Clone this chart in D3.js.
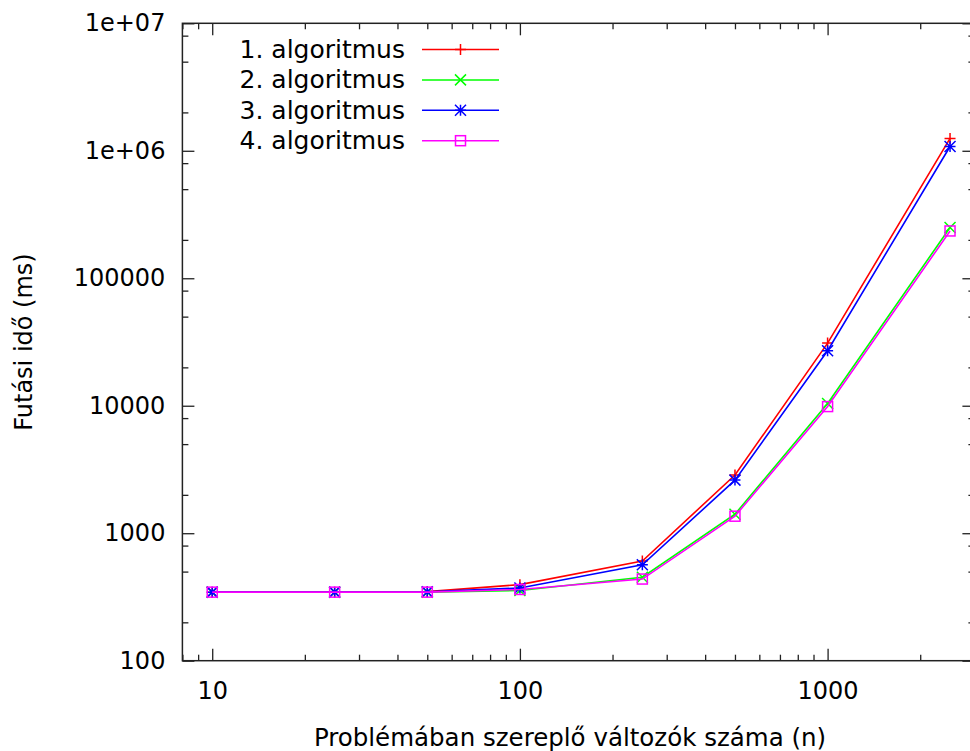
<!DOCTYPE html>
<html><head><meta charset="utf-8">
<script src="https://cdn.jsdelivr.net/npm/d3@7"></script>
<style>
html,body{margin:0;padding:0;background:#fff;}
svg{display:block;}
text{font-family:"DejaVu Sans",sans-serif;fill:#000;}
</style></head>
<body>
<svg id="chart" width="970" height="751"></svg>
<script>
// ---- data ----
const nValues = [10, 25, 50, 100, 250, 500, 1000, 2500];
const seriesNames = ["1. algoritmus", "2. algoritmus", "3. algoritmus", "4. algoritmus"];
const alg1 = [345, 345, 348, 395, 605, 2860, 31000, 1250000];
const alg2 = [345, 345, 345, 355, 452, 1410, 10400, 250000];
const alg3 = [345, 345, 347, 372, 565, 2610, 27000, 1080000];
const alg4 = [345, 345, 345, 362, 437, 1360, 9850, 235000];
const seriesColors = ["#ff0000", "#00ff00", "#0000ff", "#ff00ff"];
const seriesMarkers = ["plus", "cross", "star", "square"];
const xTickValues = [10, 100, 1000];
const xTickLabels = ["10", "100", "1000"];
const yTickValues = [100, 1000, 10000, 100000, 1000000, 10000000];
const yTickLabels = ["100", "1000", "10000", "100000", "1e+06", "1e+07"];
const xTitle = "Problémában szereplő változók száma (n)";
const yTitle = "Futási idő (ms)";

// ---- layout ----
const L = 182.4, R = 974.4, T = 23.3, B = 660.7;
const FS = 24;
const svg = d3.select("#chart");

const x = d3.scaleLog().domain([8, 3000]).range([L, R]);
const y = d3.scaleLog().domain([100, 1e7]).range([B, T]);

// minor ticks
const xMinor = [];
[1, 10, 100, 1000].forEach(d => { for (let k = 2; k <= 9; k++) { const v = d * k; if (v >= 8 && v <= 3000 && !xTickValues.includes(v)) xMinor.push(v); } });
const yMinor = [];
[100, 1000, 10000, 100000, 1000000].forEach(d => { [2, 5, 8].forEach(k => yMinor.push(d * k)); });

const MAJ = 12, MIN = 6;
const axisColor = "#222";

function styleAxis(g) {
  g.select(".domain").remove();
  g.selectAll(".tick line").attr("stroke", axisColor).attr("stroke-width", 1.3);
  g.selectAll(".tick text").style("font-size", FS + "px").attr("fill", "#000");
}

// bottom
svg.append("g").attr("transform", `translate(0,${B})`)
  .call(d3.axisBottom(x).tickValues(xTickValues).tickFormat((d, i) => xTickLabels[i]).tickSize(-MAJ).tickPadding(21))
  .call(styleAxis);
svg.append("g").attr("transform", `translate(0,${B})`)
  .call(d3.axisBottom(x).tickValues(xMinor).tickFormat("").tickSize(-MIN)).call(styleAxis);
// top
svg.append("g").attr("transform", `translate(0,${T})`)
  .call(d3.axisTop(x).tickValues(xTickValues).tickFormat("").tickSize(-MAJ)).call(styleAxis);
svg.append("g").attr("transform", `translate(0,${T})`)
  .call(d3.axisTop(x).tickValues(xMinor).tickFormat("").tickSize(-MIN)).call(styleAxis);
// left
svg.append("g").attr("transform", `translate(${L},0)`)
  .call(d3.axisLeft(y).tickValues(yTickValues).tickFormat((d, i) => yTickLabels[i]).tickSize(-MAJ).tickPadding(17))
  .call(styleAxis);
svg.append("g").attr("transform", `translate(${L},0)`)
  .call(d3.axisLeft(y).tickValues(yMinor).tickFormat("").tickSize(-MIN)).call(styleAxis);
// right
svg.append("g").attr("transform", `translate(${R},0)`)
  .call(d3.axisRight(y).tickValues(yTickValues).tickFormat("").tickSize(-MAJ)).call(styleAxis);
svg.append("g").attr("transform", `translate(${R},0)`)
  .call(d3.axisRight(y).tickValues(yMinor).tickFormat("").tickSize(-MIN)).call(styleAxis);

// frame
svg.append("rect").attr("x", L).attr("y", T).attr("width", R - L).attr("height", B - T)
  .attr("fill", "none").attr("stroke", axisColor).attr("stroke-width", 1.5);

// titles
svg.append("text").attr("x", 570).attr("y", 746).attr("text-anchor", "middle")
  .style("font-size", "24.5px").text(xTitle);
svg.append("text").attr("transform", `translate(32,${(T + B) / 2}) rotate(-90)`).attr("text-anchor", "middle")
  .style("font-size", FS + "px").text(yTitle);

// markers
function marker(g, type, cx, cy, color) {
  const s = 5.5;
  const path = d3.path();
  if (type === "plus" || type === "star") {
    path.moveTo(cx - s, cy); path.lineTo(cx + s, cy);
    path.moveTo(cx, cy - s); path.lineTo(cx, cy + s);
  }
  if (type === "cross" || type === "star") {
    path.moveTo(cx - s, cy - s); path.lineTo(cx + s, cy + s);
    path.moveTo(cx - s, cy + s); path.lineTo(cx + s, cy - s);
  }
  if (type === "square") {
    const h = 5;
    g.append("rect").attr("x", cx - h).attr("y", cy - h).attr("width", 2 * h).attr("height", 2 * h)
      .attr("fill", "none").attr("stroke", color).attr("stroke-width", 1.5);
    return;
  }
  g.append("path").attr("d", path.toString()).attr("stroke", color).attr("stroke-width", 1.5).attr("fill", "none");
}

const allSeries = [alg1, alg2, alg3, alg4];
const line = d3.line().x(d => x(d[0])).y(d => y(d[1]));
allSeries.forEach((vals, si) => {
  const g = svg.append("g");
  const pts = nValues.map((n, i) => [n, vals[i]]);
  g.append("path").attr("d", line(pts)).attr("fill", "none")
    .attr("stroke", seriesColors[si]).attr("stroke-width", 1.6);
  pts.forEach(p => marker(g, seriesMarkers[si], x(p[0]), y(p[1]), seriesColors[si]));
});

// legend
const legY0 = 49.5, legDY = 30.4;
seriesNames.forEach((name, i) => {
  const ly = legY0 + i * legDY;
  svg.append("text").attr("x", 405).attr("y", ly).attr("text-anchor", "end")
    .attr("dominant-baseline", "central").style("font-size", "25px").text(name);
  svg.append("line").attr("x1", 422).attr("x2", 499).attr("y1", ly).attr("y2", ly)
    .attr("stroke", seriesColors[i]).attr("stroke-width", 1.5);
  marker(svg, seriesMarkers[i], 460.5, ly, seriesColors[i]);
});
</script>
</body></html>
